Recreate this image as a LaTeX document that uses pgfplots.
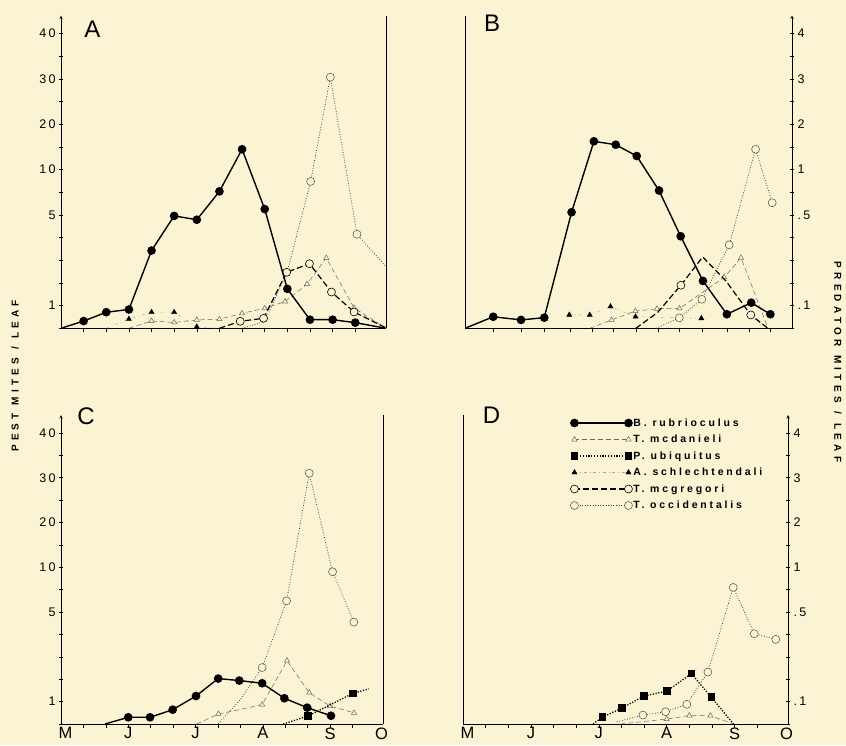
\documentclass[border=0pt]{standalone}
\usepackage{fontspec}
\setmainfont{Liberation Sans}
\newfontfamily\tickfont[LetterSpace=18]{Liberation Sans}
\newfontfamily\titlefont[LetterSpace=42]{Liberation Sans Bold}
\newfontfamily\legfont[LetterSpace=27]{Liberation Sans Bold}
\usepackage{pgfplots}
\pgfplotsset{compat=1.18}
\definecolor{paper}{HTML}{FAF4D4}

% the original's odd scale: 0-5 linear, 5-10 squeezed, 10-40 squeezed more
\pgfplotsset{
  mitescale/.style={
    y coord trafo/.code={\pgfmathparse{(##1<=5)?(##1):((##1<=10)?(5+(##1-5)/2.5):(7+(##1-10)/5))}},
    y coord inv trafo/.code={\pgfmathparse{(##1<=5)?(##1):((##1<=7)?(5+(##1-5)*2.5):(10+(##1-7)*5))}},
  },
  panel/.style={
    mitescale, scale only axis, anchor=south west,
    xmin=0, xmax=14.36, ymin=0, ymax=44,
    axis x line=bottom,
    axis line style={-, line width=0.6pt},
    xtick={1,2,3,4,5,6,7,8,9,10,11,12,13}, xticklabels={},
    ytick={0,1,2,3,4,5,7.5,10,15,20,25,30,35,40},
    tick align=inside, xtick align=outside,
    major tick length=4pt,
    tick style={black, line width=0.5pt},
    tick label style={font=\tickfont\fontsize{12.5}{13}\selectfont},
    clip mode=individual,
  },
  months/.style={
    extra x ticks={0.2,3,6,9,12,14.3},
    extra x tick labels={M,J,J,A,S,O},
    extra x tick style={major tick length=0pt,
      tick label style={font=\fontsize{16.5}{16.5}\selectfont}},
  },
  brub/.style={black, line width=1.4pt, mark=*, mark size=3.6pt, mark options={solid}},
  tmcd/.style={black!60, line width=0.5pt, dash pattern=on 5pt off 3pt, mark=triangle*,
    mark size=3pt, mark options={solid, fill=paper, line width=0.5pt}},
  pubi/.style={black, line width=1.3pt, dash pattern=on 1.2pt off 1.6pt, mark=square*,
    mark size=3pt, mark options={solid}},
  asch/.style={black!35, line width=0.4pt, dash pattern=on 3pt off 3pt on 0.5pt off 3pt,
    mark=triangle*, mark size=3pt, mark options={solid, black}},
  tmcg/.style={black, line width=1.2pt, dash pattern=on 6pt off 3pt, mark=*, mark size=4pt,
    mark options={solid, fill=paper, line width=0.6pt}},
  tocc/.style={black!75, line width=0.8pt, dash pattern=on 0.8pt off 1.8pt, mark=*, mark size=4pt,
    mark options={solid, fill=paper, draw=black!70, line width=0.5pt}},
}

\begin{document}
\begin{tikzpicture}
\path[use as bounding box, fill=paper] (0,0) rectangle (846pt,-745pt);

% ---- A ----
\begin{axis}[panel, at={(61pt,-328.3pt)}, width=325pt, height=312.8pt,
  axis y line=left, yticklabels={,1,,,,5,,10,,20,,30,,40}]
\addplot[asch, mark indices={2,3,4,5}] coordinates {(2,0) (3,0.41) (4,0.71) (5,0.71) (6,0.07) (7,0)};
\addplot[tmcd, mark indices={2,3,4,5,6,7,8,9,10,11}] coordinates {
  (3,0) (4,0.32) (5,0.26) (6,0.37) (7,0.40) (8,0.66) (9,0.88) (9.9,1.18)
  (10.87,1.95) (11.72,3.1) (12.95,0.9) (14.36,0)};
\addplot[tocc, mark indices={4,5,6}] coordinates {
  (8,0) (9,0.3) (10,2.5) (11.03,8.7) (11.9,30.4) (13.08,4.15) (14.36,2.72)};
\addplot[tmcg, mark indices={2,3,4,5,6,7}] coordinates {
  (7,0) (7.92,0.31) (8.95,0.44) (9.97,2.47) (10.98,2.85) (11.95,1.6) (12.95,0.72) (14.36,0.02)};
\addplot[brub, mark indices={2,3,4,5,6,7,8,9,10,11,12,13,14}] coordinates {
  (0,0) (1,0.32) (2,0.71) (3,0.83) (4,3.43) (5,4.96) (6,4.79) (7,7.6) (8,14.5)
  (9,5.65) (10,1.74) (11,0.38) (12,0.38) (13,0.25) (14.36,0)};
\draw[line width=0.6pt] (rel axis cs:1,0) -- (rel axis cs:1,1);
\end{axis}

% ---- B ----
\begin{axis}[panel, at={(465pt,-328.3pt)}, width=327pt, height=312.8pt,
  axis y line=right, yticklabels={,.1,,,,.5,,1,,2,,3,,4},
  xtick={1.24,2.46,3.5,4.62,5.58,6.52,7.5,8.47,9.43,10.4,11.5,12.5,13.42}]
\addplot[asch] coordinates {(4.58,0.59) (5.48,0.59) (6.39,0.96) (7.49,0.51) (10.38,0.44)};
\addplot[tmcd, mark indices={2,3,4,5,6,7}] coordinates {
  (5.48,0) (6.44,0.37) (7.48,0.76) (8.43,0.86) (9.42,0.88) (11.38,2.25) (12.12,3.11) (13.3,0.03)};
\addplot[tocc, mark indices={2,3,4,5,6}] coordinates {
  (8.4,0) (9.41,0.46) (10.4,1.28) (11.6,3.68) (12.76,14.5) (13.49,6.35)};
\addplot[tmcg, mark indices={3,6}] coordinates {
  (7.5,0) (8.46,0.7) (9.48,1.9) (10.44,3.15) (11.45,2.1) (12.55,0.59) (13.3,0)};
\addplot[brub, mark indices={2,3,4,5,6,7,8,9,10,11,12,13,14}] coordinates {
  (0,0) (1.24,0.51) (2.46,0.37) (3.48,0.47) (4.68,5.3) (5.66,16.25) (6.62,15.5)
  (7.54,13.0) (8.52,7.7) (9.47,4.06) (10.45,2.09) (11.5,0.62) (12.57,1.13) (13.41,0.62)};
\draw[line width=0.6pt] (rel axis cs:0,0) -- (rel axis cs:0,1);
\end{axis}

% ---- C ----
\begin{axis}[panel, months, at={(61pt,-724pt)}, width=322pt, height=309pt,
  axis y line=left, yticklabels={,1,,,,5,,10,,20,,30,,40}]
\addplot[tmcd, mark indices={2,4,5,6,7,8}] coordinates {
  (6.05,0) (7.02,0.45) (8,0.65) (8.97,0.87) (10.08,2.83) (11.07,1.4) (12,0.8) (13.07,0.5)};
\addplot[tocc, mark indices={3,4,5,6,7}] coordinates {
  (7.01,0) (8,1.1) (8.97,2.52) (10.06,6.25) (11.07,31.0) (12.11,9.5) (13.06,4.55)};
\addplot[pubi, mark indices={2,3}] coordinates {(9.91,0) (11.02,0.36) (13.02,1.37) (13.72,1.57)};
\addplot[brub, mark indices={2,3,4,5,6,7,8,9,10,11}] coordinates {
  (1.96,0) (3,0.30) (3.97,0.30) (4.98,0.64) (6.02,1.25) (7.01,2.03) (7.95,1.94)
  (8.97,1.82) (9.96,1.15) (10.98,0.73) (12.04,0.37)};
\draw[line width=0.6pt] (rel axis cs:1,0) -- (rel axis cs:1,1);
\end{axis}

% ---- D ----
\begin{axis}[panel, months, at={(463pt,-724pt)}, width=325pt, height=309pt,
  axis y line=right, yticklabels={,.1,,,,.5,,1,,2,,3,,4},
  legend style={at={(0.33,0.995)}, anchor=north west, draw=none, fill=none,
    inner sep=0pt, row sep=4pt,
    font=\legfont\fontsize{10.5}{10.5}\selectfont,
    nodes={inner sep=1pt, text height=8.5pt, text depth=2pt}},
  legend cell align=left,
  legend image code/.code={\draw[#1] plot coordinates {(0pt,0pt) (54pt,0pt)};}]
\addlegendimage{brub}\addlegendentry{B. rubrioculus}
\addlegendimage{tmcd}\addlegendentry{T. mcdanieli}
\addlegendimage{pubi}\addlegendentry{P. ubiquitus}
\addlegendimage{asch}\addlegendentry{A. schlechtendali}
\addlegendimage{tmcg}\addlegendentry{T. mcgregori}
\addlegendimage{tocc}\addlegendentry{T. occidentalis}
\addplot[tmcd, forget plot, mark indices={2,3,4}] coordinates {
  (6.94,0) (9.0,0.22) (10.0,0.38) (10.93,0.37) (11.94,0)};
\addplot[tocc, forget plot, mark indices={2,3,4,5,6,7,8}] coordinates {
  (6.8,0.1) (7.95,0.4) (8.95,0.55) (9.89,0.88) (10.82,2.32) (11.94,7.75) (12.87,4.03) (13.82,3.78)};
\addplot[pubi, forget plot, mark indices={2,3,4,5,6,7}] coordinates {
  (5.75,0) (6.16,0.31) (7.02,0.71) (8.0,1.25) (9.01,1.47) (10.09,2.25) (10.97,1.2) (11.95,0)};
\draw[line width=0.6pt] (rel axis cs:0,0) -- (rel axis cs:0,1);
\end{axis}

\node[font=\fontsize{24}{24}\selectfont] at (92.5pt,-29pt) {A};
\node[font=\fontsize{24}{24}\selectfont] at (492pt,-23pt) {B};
\node[font=\fontsize{24}{24}\selectfont] at (86pt,-416pt) {C};
\node[font=\fontsize{24}{24}\selectfont] at (491.5pt,-415.5pt) {D};
\node[rotate=90, font=\titlefont\fontsize{10}{11}\selectfont] at (15pt,-376pt)
  {PEST\hspace{8pt}MITES\hspace{8pt}/\hspace{8pt}LEAF};
\node[rotate=-90, font=\titlefont\fontsize{10}{11}\selectfont] at (838pt,-362pt)
  {PREDATOR\hspace{9pt}MITES\hspace{9pt}/\hspace{9pt}LEAF};
\end{tikzpicture}
\end{document}
